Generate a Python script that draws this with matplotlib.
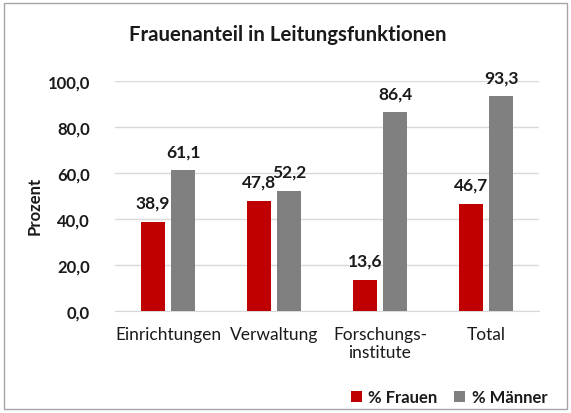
import matplotlib
matplotlib.use("Agg")
import matplotlib.pyplot as plt
import numpy as np
from matplotlib.patches import Rectangle

categories = ["Einrichtungen", "Verwaltung", "Forschungs-\ninstitute", "Total"]
frauen = [38.9, 47.8, 13.6, 46.7]
maenner = [61.1, 52.2, 86.4, 93.3]
series_names = ["% Frauen", "% Männer"]
yticks = [0, 20, 40, 60, 80, 100]

plt.rcParams['font.family'] = ['Lato', 'DejaVu Sans']

fig = plt.figure(figsize=(5.71, 4.14), dpi=100)
ax = fig.add_axes([115/571, 1-312/414, (539-115)/571, (312-82)/414])

x = np.arange(len(categories))
w = 0.22
off = 0.142
red = "#c00000"
grey = "#808080"
b1 = ax.bar(x - off, frauen, w, color=red, label=series_names[0], zorder=3)
b2 = ax.bar(x + off, maenner, w, color=grey, label=series_names[1], zorder=3)

for bars, vals in ((b1, frauen), (b2, maenner)):
    for r, v in zip(bars, vals):
        ax.annotate(f"{v:.1f}".replace(".", ","), (r.get_x() + r.get_width()/2, v),
                    xytext=(0, 8), textcoords="offset points", ha="center", va="bottom",
                    fontsize=12.5, fontweight="bold", color="#1a1a1a")

ax.set_xlim(-0.5, 3.5)
ax.set_ylim(0, 100)
ax.set_yticks(yticks)
ax.set_yticklabels([f"{t:.1f}".replace(".", ",") for t in yticks], fontsize=12,
                   fontweight="bold", color="#1a1a1a")
ax.set_xticks(x)
ax.set_xticklabels(categories, fontsize=12.5, color="#1a1a1a", va="top", linespacing=1.1)
ax.tick_params(axis="both", length=0)
ax.tick_params(axis="y", pad=18)
ax.tick_params(axis="x", pad=11)
ax.grid(axis="y", color="#d9d9d9", linewidth=1, zorder=0)
for s in ("top", "right", "left"):
    ax.spines[s].set_visible(False)
ax.spines["bottom"].set_color("#d9d9d9")
ax.set_facecolor("white")

fig.text(35/571, 1-206/414, "Prozent", rotation=90, ha="center", va="center",
         fontsize=12, fontweight="bold", color="#1a1a1a")
fig.text(288/571, 1-35/414, "Frauenanteil in Leitungsfunktionen", ha="center", va="center",
         fontsize=14.7, fontweight="bold", color="#1a1a1a")

leg = fig.legend(handles=[b1, b2], loc="center", bbox_to_anchor=(449/571, 1-398/414),
                 ncol=2, frameon=False, handlelength=0.65, handleheight=0.65,
                 handletextpad=0.4, columnspacing=1.0,
                 prop={"size": 12, "weight": "bold"})
for t in leg.get_texts():
    t.set_color("#1a1a1a")

fig.patches.append(Rectangle((4/571, 4/414), 563/571, 406/414, transform=fig.transFigure,
                             fill=False, edgecolor="#a6a6a6", linewidth=1))

fig.savefig("out.png", dpi=100)
